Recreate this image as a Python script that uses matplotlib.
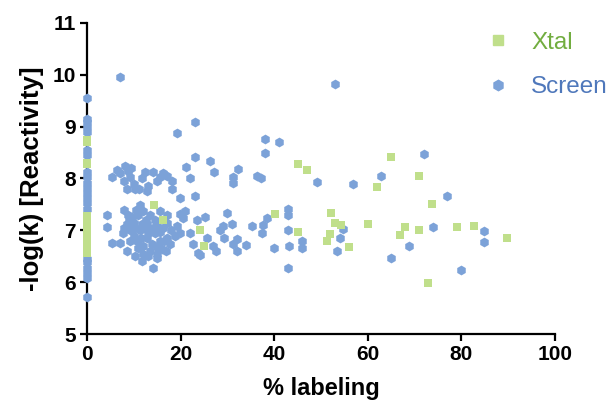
import matplotlib.pyplot as plt
from matplotlib.lines import Line2D

plt.rcParams['font.family'] = ['Liberation Sans', 'DejaVu Sans']

GREEN = '#c0df8b'
BLUE = '#7ca2d8'

# Screen points away from the axis
screen_x = [7.0, 53.0, 23.0, 19.2, 38.0, 41.0, 38.0, 23.0, 26.3, 21.2, 27.1, 32.2, 31.2, 31.2,
            22.0, 36.3, 37.2, 49.1, 72.0, 62.9, 56.9, 77.0,
            5.4, 6.4, 7.1, 8.1, 8.8, 9.2, 8.5, 10.3, 11.2, 11.7, 12.4, 13.0, 14.1, 15.0, 15.6,
            16.2, 18.1, 18.1, 19.9, 23.0, 9.5, 10.0, 8.0, 17.0, 12.8,
            4.3, 4.3, 5.3, 11.3, 8.8, 8.5, 7.7, 7.1, 8.5, 10.3, 11.7, 14.1, 13.0, 14.9, 16.0,
            17.0, 16.2, 17.1, 14.5, 12.8, 11.3, 12.8, 10.7, 9.6, 11.0, 10.3, 9.2, 9.2, 12.0,
            13.9, 14.9, 14.5, 15.6, 12.0, 13.5, 15.6, 17.1, 11.7, 16.9, 17.7, 18.8,
            19.2, 19.9, 20.5, 21.0, 23.5, 22.0, 23.7, 22.7, 24.2,
            10.0, 13.0, 8.0, 15.0, 12.0, 18.0, 16.5,
            9.0, 10.0, 11.0, 12.5, 13.5, 14.0, 15.5, 16.5, 10.5, 8.0, 13.0, 11.5, 15.0, 12.0,
            25.2, 25.6, 27.6, 27.0, 28.4, 29.9, 29.0, 31.0, 29.3, 31.2, 32.0, 32.0, 34.0, 35.2,
            37.6, 37.4, 38.4, 40.0, 43.0, 43.0, 43.0, 43.0, 43.2, 45.9, 46.0, 53.4, 54.0, 54.8,
            74.0, 84.8, 84.8, 68.8, 65.0, 80.0, 19.8]
screen_y = [9.96, 9.82, 9.09, 8.87, 8.76, 8.70, 8.50, 8.41, 8.33, 8.23, 8.12, 8.18, 8.02, 7.92,
            8.01, 8.05, 8.00, 7.94, 8.48, 8.04, 7.90, 7.66,
            8.02, 8.17, 8.10, 8.25, 8.15, 8.02, 7.80, 7.80, 7.80, 8.00, 8.12, 7.85, 8.12, 7.96, 8.02,
            8.10, 7.96, 7.80, 7.62, 7.67, 8.20, 7.90, 7.95, 8.05, 7.75,
            7.29, 7.07, 6.76, 7.48, 7.29, 7.13, 6.94, 6.76, 6.60, 6.51, 6.41, 6.28, 6.51, 6.47, 6.64,
            6.86, 7.05, 7.15, 7.19, 7.13, 7.00, 6.86, 6.80, 7.25, 7.29, 7.05, 7.00, 6.80, 6.70,
            6.74, 6.67, 6.94, 6.96, 7.38, 7.29, 7.38, 7.29, 7.13, 6.61, 6.74, 6.90,
            7.09, 6.94, 7.23, 7.38, 7.19, 6.94, 6.57, 6.74, 6.53,
            7.15, 7.00, 7.40, 7.10, 6.55, 7.00, 6.80,
            7.20, 6.90, 6.65, 7.20, 6.60, 7.05, 6.80, 7.20, 7.40, 7.05, 6.95, 6.85, 6.55, 7.05,
            7.25, 6.86, 6.60, 6.70, 7.00, 7.34, 7.09, 7.13, 6.86, 6.74, 6.84, 6.60, 6.71, 7.09,
            7.10, 6.94, 7.23, 6.65, 7.42, 7.30, 7.00, 6.28, 6.70, 6.80, 6.65, 6.60, 6.86, 7.03,
            7.07, 6.98, 6.77, 6.70, 6.47, 6.24, 7.32]

# Screen points sitting at 0 % labeling
screen_zero_y = [5.72, 6.08, 6.18, 6.28, 6.38, 6.45, 7.42, 7.52, 7.62, 7.72, 7.82, 7.92, 8.02,
                 8.12, 8.45, 8.55, 8.89, 8.99, 9.09, 9.14, 9.55]

xtal_x = [14.3, 16.2, 24.2, 25.0, 40.2, 45.0, 45.0, 47.1, 52.2, 53.0, 54.3, 52.0, 51.2, 56.0,
          60.0, 62.0, 65.0, 71.0, 73.8, 68.0, 66.9, 71.0, 79.0, 82.7, 89.7, 72.9]
xtal_y = [7.48, 7.19, 7.01, 6.70, 7.32, 6.97, 8.27, 8.17, 7.34, 7.15, 7.10, 6.93, 6.79, 6.68,
          7.13, 7.83, 8.41, 8.04, 7.51, 7.06, 6.91, 7.00, 7.06, 7.08, 6.86, 5.99]
xtal_zero_y = [6.57, 6.67, 6.77, 6.87, 6.97, 7.07, 7.17, 7.27, 8.27, 8.30, 8.70, 8.75]

fig = plt.figure(figsize=(6.14, 4.17), dpi=100)
ax = fig.add_axes([0.1417, 0.199, 0.7622, 0.746])

ax.scatter(screen_x, screen_y, s=50, marker='h', color=BLUE, linewidths=0, zorder=3)
ax.scatter([0] * len(screen_zero_y), screen_zero_y, s=50, marker='h', color=BLUE,
           linewidths=0, zorder=3, clip_on=False)
ax.scatter(xtal_x, xtal_y, s=40, marker='s', color=GREEN, linewidths=0, zorder=3)
ax.scatter([0] * len(xtal_zero_y), xtal_zero_y, s=40, marker='s', color=GREEN,
           linewidths=0, zorder=4, clip_on=False)

ax.set_xlim(0, 100)
ax.set_ylim(5, 11)
ax.set_xticks(range(0, 101, 20))
ax.set_yticks(range(5, 12))
for s in ['top', 'right']:
    ax.spines[s].set_visible(False)
for s in ['left', 'bottom']:
    ax.spines[s].set_linewidth(1.6)
    ax.spines[s].set_zorder(2)
ax.tick_params(width=1.6, length=5, direction='out', labelsize=15, pad=3)
for lab in ax.get_xticklabels() + ax.get_yticklabels():
    lab.set_fontweight('bold')

ax.set_xlabel('% labeling', fontsize=17, fontweight='bold', labelpad=9)
ax.set_ylabel('-log(k) [Reactivity]', fontsize=18.5, fontweight='bold', labelpad=6)

handles = [Line2D([], [], marker='s', ls='', color=GREEN, markersize=6.5),
           Line2D([], [], marker='h', ls='', color=BLUE, markersize=7.5)]
fig.legend(handles, ['Xtal', 'Screen'], loc='upper left', bbox_to_anchor=(0.776, 0.947),
           frameon=False, labelspacing=0.92, handlelength=1, handletextpad=0.86,
           borderaxespad=0, labelcolor=['#72ad40', '#4f78bb'],
           prop={'family': 'Liberation Sans', 'size': 17.5})

fig.savefig('out.png', dpi=100)
